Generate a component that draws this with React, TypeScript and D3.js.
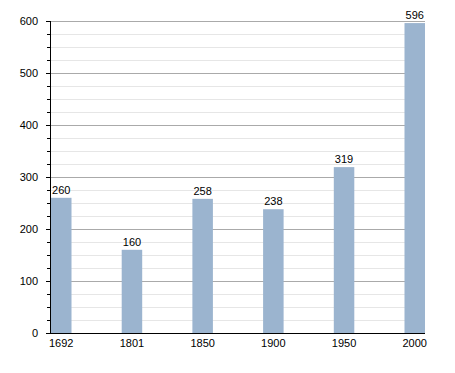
import React from "react";
import * as d3 from "d3";

const years = ["1692", "1801", "1850", "1900", "1950", "2000"];
const population = [260, 160, 258, 238, 319, 596];
const majorTicks = [0, 100, 200, 300, 400, 500, 600];

export default function App() {
  const W = 455, H = 373;
  const left = 50, right = 425, top = 21, bottom = 333;
  const x = d3.scaleBand<string>().domain(years).range([left + 1, right]).paddingInner(0.71).paddingOuter(0);
  const y = d3.scaleLinear().domain([0, 600]).range([bottom, top]);
  const minor = d3.range(0, 601, 25).filter((v) => v % 100 !== 0);
  const font = "Liberation Sans, Arial, sans-serif";
  return (
    <svg width={W} height={H} style={{ position: "absolute", left: 0, top: 0 }} fontFamily={font}>
      {minor.map((v) => (
        <line key={"m" + v} x1={left} x2={right} y1={Math.round(y(v)) + 0.5} y2={Math.round(y(v)) + 0.5} stroke="#e6e6e6" />
      ))}
      {majorTicks.filter((v) => v > 0).map((v) => (
        <line key={"M" + v} x1={left} x2={right} y1={Math.round(y(v)) + 0.5} y2={Math.round(y(v)) + 0.5} stroke="#aaaaaa" />
      ))}
      {years.map((yr, i) => (
        <g key={yr}>
          <rect x={x(yr)} y={y(population[i])} width={x.bandwidth()} height={bottom - y(population[i])} fill="#9bb4cf" />
          <text x={(x(yr) as number) + x.bandwidth() / 2} y={y(population[i]) - 4} fontSize={11} textAnchor="middle" fill="#000">
            {population[i]}
          </text>
          <text x={(x(yr) as number) + x.bandwidth() / 2} y={bottom + 14} fontSize={11} textAnchor="middle" fill="#000">
            {yr}
          </text>
        </g>
      ))}
      {minor.map((v) => (
        <line key={"mt" + v} x1={left - 3} x2={left} y1={Math.round(y(v)) + 0.5} y2={Math.round(y(v)) + 0.5} stroke="#000" />
      ))}
      {majorTicks.map((v) => (
        <g key={"t" + v}>
          <line x1={left - 4} x2={left} y1={Math.round(y(v)) + 0.5} y2={Math.round(y(v)) + 0.5} stroke="#000" />
          <text x={left - 12} y={y(v) + 4} fontSize={11} textAnchor="end" fill="#000">{v}</text>
        </g>
      ))}
      <line x1={left + 0.5} x2={left + 0.5} y1={top} y2={bottom + 1} stroke="#000" />
      <line x1={left} x2={right} y1={bottom + 0.5} y2={bottom + 0.5} stroke="#000" />
    </svg>
  );
}
